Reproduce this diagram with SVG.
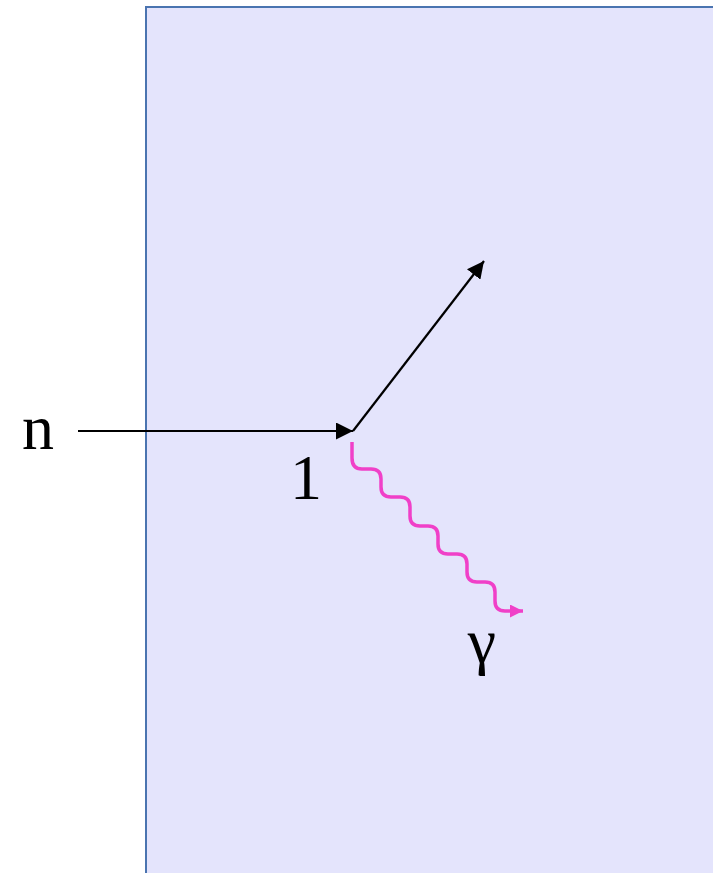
<svg xmlns="http://www.w3.org/2000/svg" width="713" height="873" viewBox="0 0 713 873">
<defs>
<style>
.lbl{font-family:"Liberation Serif","Times New Roman",serif;font-size:64px;fill:#000;text-anchor:middle}
.ray{stroke:#000;stroke-width:2.2;fill:none}
</style>
<marker id="ah" viewBox="0 0 10 10" refX="10" refY="5" markerWidth="17" markerHeight="17" markerUnits="userSpaceOnUse" orient="auto"><path d="M0,0 L10,5 L0,10 z" fill="#000"/></marker>
<marker id="ahp" viewBox="0 0 10 10" refX="10" refY="5" markerWidth="14" markerHeight="13" markerUnits="userSpaceOnUse" orient="auto"><path d="M0,0 L10,5 L0,10 z" fill="#f040c8"/></marker>
</defs>
<rect width="713" height="873" fill="#fff"/>
<g id="slab"><rect x="146" y="7" width="580" height="880" fill="#e4e4fc" stroke="#4a74b0" stroke-width="2"/></g>
<g id="connectors">
<line class="ray" x1="78" y1="431" x2="353" y2="431" marker-end="url(#ah)"/>
<line class="ray" x1="353" y1="431" x2="484" y2="261" marker-end="url(#ah)"/>
<path d="M352,442 L352,458 Q352,469 362,469 L371,469 Q381,469 381,479 L381,487 Q381,497 391,497 L400,497 Q410,497 410,507 L410,516 Q410,526 420,526 L428,526 Q438,526 438,536 L438,544 Q438,554 448,554 L457,554 Q467,554 467,564 L467,572 Q467,582 477,582 L485,582 Q495,582 495,592 L495,601 Q495,611 505,611 L523,611" fill="none" stroke="#f040c8" stroke-width="3.5" marker-end="url(#ahp)"/>
</g>
<g id="labels">
<text class="lbl" x="38" y="449">n</text>
<text class="lbl" x="306" y="499" font-size="60">1</text>
<text class="lbl" x="482" y="662">γ</text>
</g>
</svg>
